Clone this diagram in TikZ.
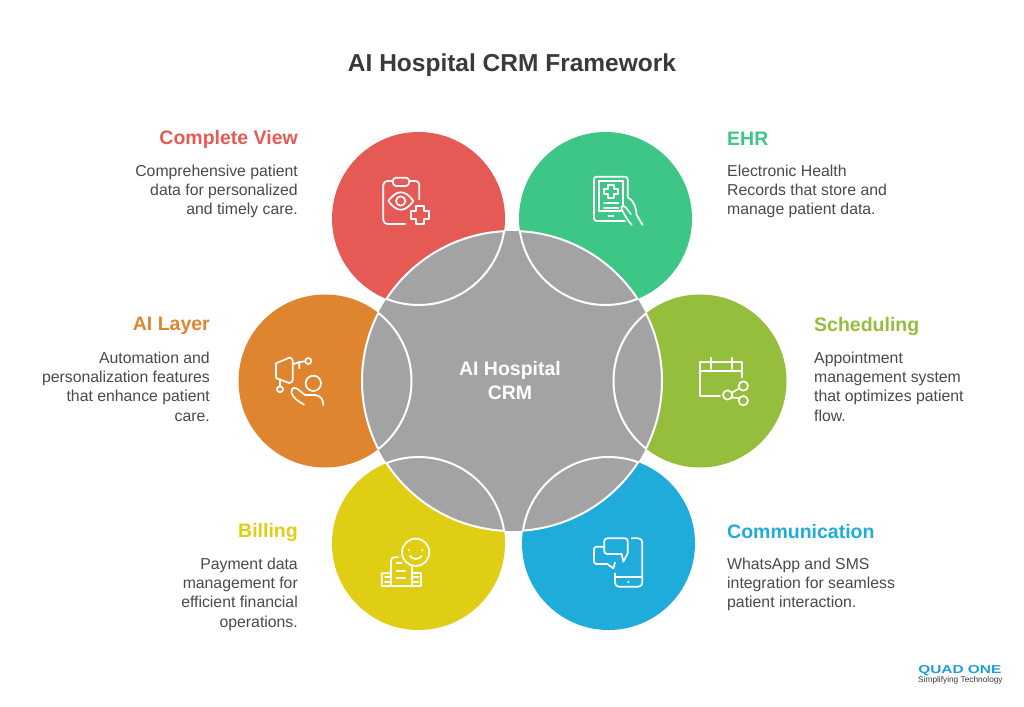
\documentclass[tikz,border=0pt]{standalone}
\usepackage{fontspec}
\setmainfont{Liberation Sans}
\definecolor{cred}{HTML}{E65A55}
\definecolor{cgreen}{HTML}{3EC687}
\definecolor{corange}{HTML}{DF8530}
\definecolor{clime}{HTML}{94BE3B}
\definecolor{cyellow}{HTML}{E0CE15}
\definecolor{cblue}{HTML}{20ACDB}
\definecolor{cgrey}{HTML}{A3A3A3}
\definecolor{ctext}{HTML}{4A4A4A}
\definecolor{ctitle}{HTML}{3A3A3A}
\definecolor{clogo}{HTML}{1E9FD8}
\tikzset{
  petal/.style={circle,minimum size=173pt,inner sep=0pt,fill=#1},
  hub/.style={circle,minimum size=300pt,inner sep=0pt,fill=cgrey},
  head/.style={font=\bfseries\fontsize{19.5}{23}\selectfont,inner sep=0pt},
  headR/.style={head,anchor=east,text=#1},
  headL/.style={head,anchor=west,text=#1},
  bodyR/.style={anchor=north east,align=right,inner sep=0pt,text=ctext,font=\fontsize{15.8}{19.4}\selectfont},
  bodyL/.style={anchor=north west,align=left,inner sep=0pt,text=ctext,font=\fontsize{15.8}{19.4}\selectfont},
  icon/.style={draw=white,line width=1.7pt,line cap=round,line join=round,fill=none},
  zoomed/.style={x=0.33333pt,y=-0.33333pt,shift={#1}},
  seam/.style={draw=white,line width=2pt},
}
\begin{document}
\begin{tikzpicture}[x=1pt,y=-1pt]
\useasboundingbox[fill=white] (0,0) rectangle (1024,706);
\node[font=\bfseries\fontsize{24.5}{30}\selectfont,text=ctitle,inner sep=0pt] (title) at (512,65.5) {AI Hospital CRM Framework};

\node[petal=cred] (pred) at (418.5,218.5) {};
\node[petal=cgreen] (pgreen) at (605.5,218.5) {};
\node[petal=corange] (porange) at (325,381) {};
\node[petal=clime] (plime) at (700,381) {};
\node[petal=cyellow] (pyellow) at (418.5,543.5) {};
\node[petal=cblue] (pblue) at (608.5,543.5) {};
\node[hub] (hub) at (512,381) {};

\foreach \p in {pred,pgreen,porange,plime,pyellow,pblue}{
  \begin{scope}
    \clip (hub.center) circle (150pt);
    \draw[seam] (\p.center) circle (86.5pt);
  \end{scope}
  \begin{scope}
    \clip (\p.center) circle (86.5pt);
    \draw[seam] (hub.center) circle (150pt);
  \end{scope}
}

\node[font=\bfseries\fontsize{19.5}{24.5}\selectfont,text=white,align=center,inner sep=0pt] (hublabel) at (510,380.5) {AI Hospital\\CRM};

\node[headR=cred] (h1) at (298,139) {Complete View};
\node[bodyR] (b1) at (298,164.5) {Comprehensive patient\\data for personalized\\and timely care.};
\node[headL=cgreen] (h2) at (727,139) {EHR};
\node[bodyL] (b2) at (727,164.5) {Electronic Health\\Records that store and\\manage patient data.};
\node[headR=corange] (h3) at (210,326) {AI Layer};
\node[bodyR] (b3) at (210,351.5) {Automation and\\personalization features\\that enhance patient\\care.};
\node[headL=clime] (h4) at (814,326) {Scheduling};
\node[bodyL] (b4) at (814,351.5) {Appointment\\management system\\that optimizes patient\\flow.};
\node[headR=cyellow] (h5) at (298,532) {Billing};
\node[bodyR] (b5) at (298,557.5) {Payment data\\management for\\efficient financial\\operations.};
\node[headL=cblue] (h6) at (727,532) {Communication};
\node[bodyL] (b6) at (727,557.5) {WhatsApp and SMS\\integration for seamless\\patient interaction.};

% red icon
\begin{scope}[zoomed={(330pt,-120pt)}]
\draw[icon] (268,238) -- (268,195) to[out=90,in=0] (258,183) -- (238,183);
\draw[icon] (188,183) -- (172,183) to[out=180,in=90] (160,195) -- (160,300) to[out=-90,in=180] (172,312) -- (225,312);
\draw[icon] (198,173) -- (228,173) to[out=0,in=90] (238,185) to[out=-90,in=0] (228,198) -- (198,198) to[out=180,in=-90] (188,185) to[out=90,in=180] cycle;
\draw[icon] (175,243) .. controls (200,208) and (225,208) .. (250,243) .. controls (225,278) and (200,278) .. (175,243) -- cycle;
\draw[icon] (212,243) circle (14);
\draw[icon] (258,258) -- (282,258) -- (282,272) -- (298,272) -- (298,298) -- (282,298) -- (282,312) -- (258,312) -- (258,298) -- (242,298) -- (242,272) -- (258,272) -- cycle;
\end{scope}

% green icon
\begin{scope}[zoomed={(330pt,-120pt)}]
\draw[icon] (893,232) -- (893,178) to[out=90,in=0] (885,170) -- (800,170) to[out=180,in=90] (792,178) -- (792,295) to[out=-90,in=180] (800,303) -- (885,303);
\draw[icon] (880,255) -- (880,183) -- (806,183) -- (806,272) -- (872,272);
\draw[icon] (835,194) -- (851,194) -- (851,206) -- (863,206) -- (863,222) -- (851,222) -- (851,234) -- (835,234) -- (835,222) -- (823,222) -- (823,206) -- (835,206) -- cycle;
\draw[icon] (822,250) -- (865,250) (822,265) -- (865,265) (835,289) -- (850,289);
\draw[icon] (893,232) .. controls (915,245) and (918,265) .. (920,285) -- (938,315);
\draw[icon] (905,315) .. controls (885,290) and (885,285) .. (875,268) .. controls (872,258) and (880,255) .. (887,262) -- (903,282);
\end{scope}

% orange icon
\begin{scope}[zoomed={(240pt,-300pt)}]
\draw[icon] (108,190) -- (148,173) to[out=0,in=90] (158,182) -- (158,240) to[out=-90,in=0] (148,249) -- (112,236) to[out=180,in=-90] (108,230) -- cycle;
\draw[icon] (158,193) -- (178,186) -- (196,184) (178,186) -- (178,205);
\draw[icon] (205,183) circle (9);
\draw[icon] (120,238) -- (120,259);
\draw[icon] (120,268) circle (9);
\draw[icon] (220,250) circle (23);
\draw[icon] (192,314) .. controls (165,298) and (150,285) .. (155,268) .. controls (165,258) and (170,265) .. (195,285) -- (225,285) .. controls (243,287) and (250,300) .. (250,315);
\end{scope}

% lime icon
\begin{scope}[zoomed={(610pt,-300pt)}]
\draw[icon] (330,287) -- (270,287) -- (270,187) -- (397,187) -- (397,232);
\draw[icon] (270,212) -- (397,212);
\draw[icon] (302,173) -- (302,207) (366,173) -- (366,207);
\draw[icon] (353,285) circle (14);
\draw[icon] (400,258) circle (14);
\draw[icon] (400,302) circle (14);
\draw[icon] (365,278) -- (388,265) (365,292) -- (388,295);
\end{scope}

% yellow icon
\begin{scope}[zoomed={(330pt,-460pt)}]
\draw[icon] (257,277) circle (41);
\fill[white] (237,270) circle (3.5) (277,270) circle (3.5);
\draw[icon] (240,288) .. controls (250,300) and (265,300) .. (275,288);
\draw[icon] (155,378) -- (272,378) -- (272,340) -- (245,340) (245,378) -- (245,322);
\draw[icon] (155,378) -- (155,340) -- (183,340) (183,378) -- (183,302) to[out=90,in=180] (192,292) -- (205,292);
\draw[icon] (200,310) -- (215,310) (200,332) -- (225,332) (200,353) -- (225,353);
\draw[icon] (165,350) -- (178,350) (165,365) -- (178,365) (250,350) -- (265,350) (250,365) -- (265,365);
\end{scope}

% blue icon
\begin{scope}[zoomed={(330pt,-460pt)}]
\draw[icon] (905,235) -- (925,235) to[out=0,in=90] (937,247) -- (937,368) to[out=-90,in=0] (925,380) -- (867,380) to[out=180,in=-90] (855,368) -- (855,340);
\draw[icon] (855,352) -- (937,352);
\fill[white] (895,366) circle (4);
\draw[icon] (832,235) -- (885,235) to[out=0,in=90] (893,243) -- (893,280) -- (880,305) -- (875,282) -- (832,282) to[out=180,in=-90] (823,274) -- (823,243) to[out=90,in=180] cycle;
\draw[icon] (820,260) -- (800,260) to[out=180,in=90] (792,268) -- (792,304) to[out=-90,in=180] (800,312) -- (832,312) -- (850,325) -- (855,308);
\end{scope}

% logo
\node[font=\bfseries\fontsize{11.5}{12}\selectfont,text=clogo,inner sep=0pt,anchor=west,xscale=1.34] (logo) at (918,670.5) {QUAD ONE};
\node[font=\fontsize{8.3}{9}\selectfont,text=ctitle,inner sep=0pt,anchor=west] (tag) at (918,680.5) {Simplifying Technology};
\end{tikzpicture}
\end{document}
